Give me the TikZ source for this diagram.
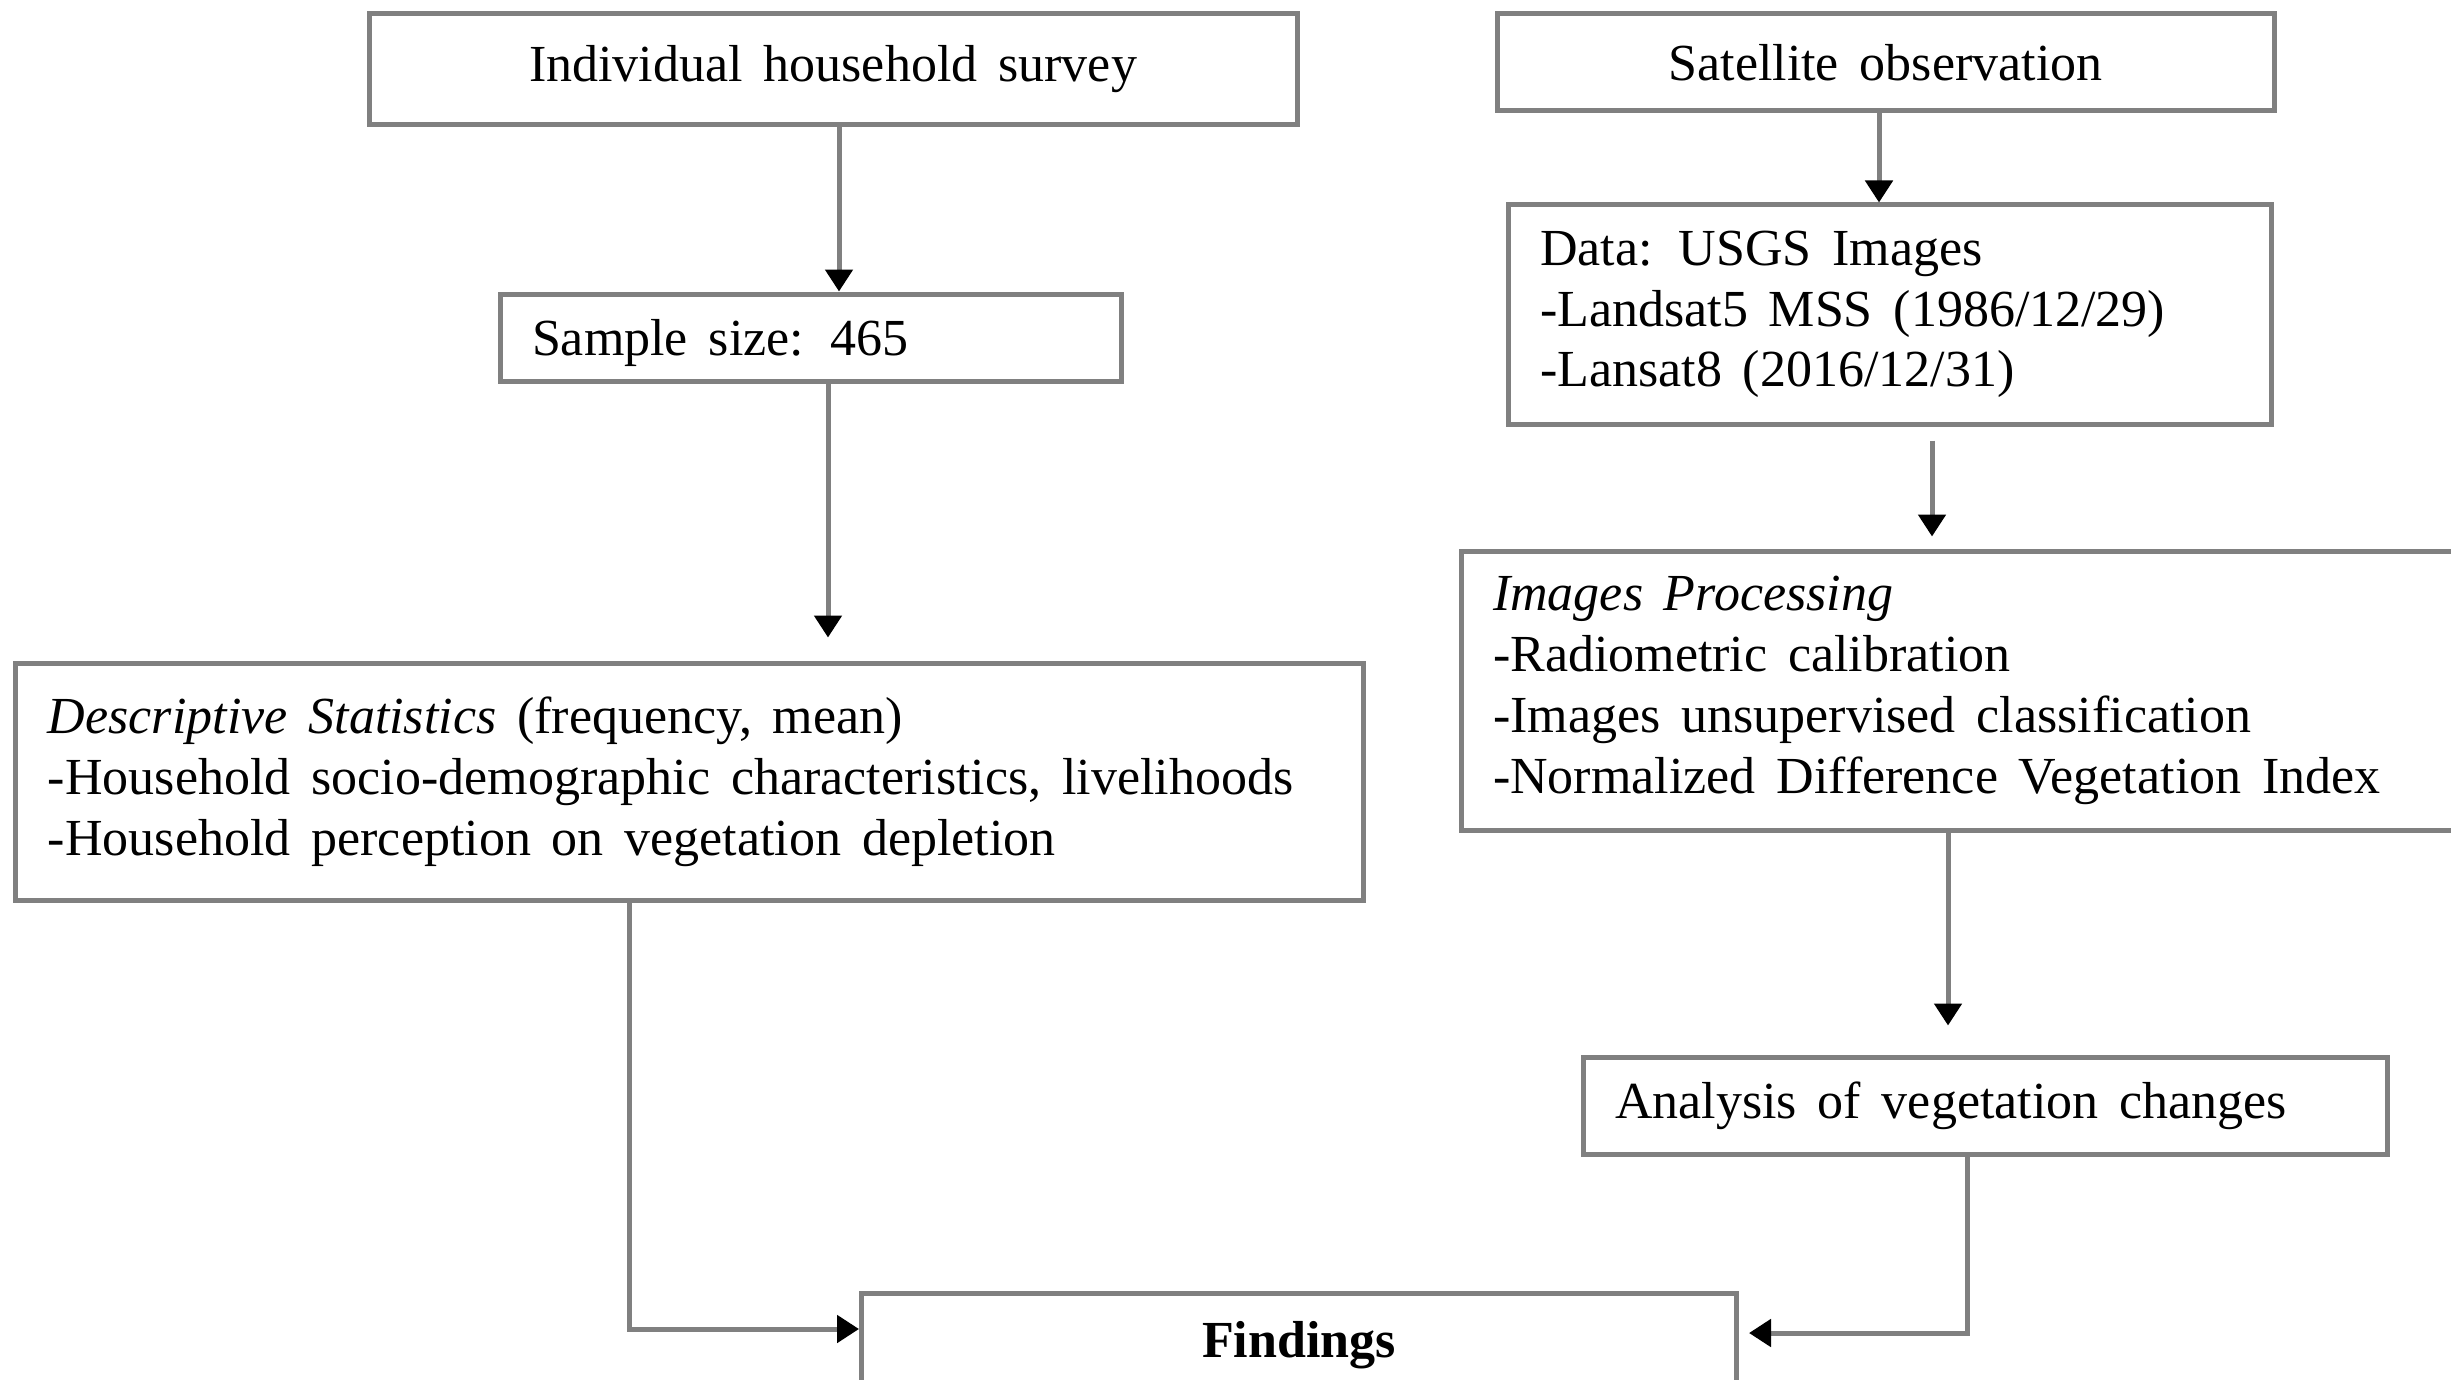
\documentclass[tikz,border=0pt]{standalone}
\usepackage{fontspec}
\setmainfont{Liberation Serif}
\usetikzlibrary{arrows.meta}
\newcommand{\widesp}{\spaceskip=0.4em\relax}
\tikzset{
	box/.style={draw=gray,line width=0.05cm,inner xsep=0.32cm,inner ysep=0pt,
		font=\fontsize{14.8}{17.3}\selectfont,execute at begin node=\widesp},
	lbox/.style={box,align=left},
	arr/.style={draw=gray,line width=0.05cm,-{Triangle[length=0.22cm,width=0.27cm,color=black]}}
}
\begin{document}
\begin{tikzpicture}[line join=miter]
			\useasboundingbox (0,0) rectangle (24.51,-13.80);
			% left column
			\node[box,minimum width=9.28cm,minimum height=1.11cm] (surv) at (8.33,-0.695) {Individual household survey};
			\node[lbox,text width=5.57cm,minimum height=0.87cm,text depth=0pt] (samp) at (8.105,-3.375) {Sample size: 465};
			\node[lbox,text width=12.83cm,minimum height=2.37cm] (desc) at (6.895,-7.815) {\textit{Descriptive Statistics} (frequency, mean)\\-Household socio-demographic characteristics, livelihoods\\-Household perception on vegetation depletion};
			% right column
			\node[box,minimum width=7.77cm,minimum height=0.97cm] (sat) at (18.855,-0.625) {Satellite observation};
			\node[lbox,text width=6.99cm,minimum height=2.19cm] (data) at (18.895,-3.145) {Data: USGS Images\\-Landsat5 MSS (1986/12/29)\\-Lansat8 (2016/12/31)};
			\node[lbox,text width=9.46cm,minimum height=2.79cm] (proc) at (19.66,-6.905) {\textit{Images Processing}\\-Radiometric calibration\\-Images unsupervised classification\\-Normalized Difference Vegetation Index};
			\node[lbox,text width=7.40cm,minimum height=0.97cm] (anal) at (19.85,-11.055) {Analysis of vegetation changes};
			\node[box,minimum width=8.75cm,minimum height=1.04cm] (find) at (12.99,-13.45) {\textbf{Findings}};
			% connectors
			\draw[arr] ([xshift=0.06cm]surv.south) -- ([xshift=0.06cm]surv.south |- samp.north);
			\draw[arr,shorten >=0.23cm] ([xshift=0.175cm]samp.south) -- ([xshift=0.175cm]samp.south |- desc.north);
			\draw[arr] ([xshift=-0.065cm]sat.south) -- ([xshift=-0.065cm]sat.south |- data.north);
			\draw[arr,shorten <=0.14cm,shorten >=0.12cm] ([xshift=0.425cm]data.south) -- ([xshift=0.425cm]data.south |- proc.north);
			\draw[arr,shorten >=0.29cm] ([xshift=-0.18cm]proc.south) -- ([xshift=-0.18cm]proc.south |- anal.north);
			\draw[arr] ([xshift=-0.6cm]desc.south) |- ([yshift=0.16cm]find.west);
			\draw[arr,shorten >=0.1cm] ([xshift=-0.18cm]anal.south) |- ([yshift=0.12cm]find.east);
		\end{tikzpicture}
\end{document}
